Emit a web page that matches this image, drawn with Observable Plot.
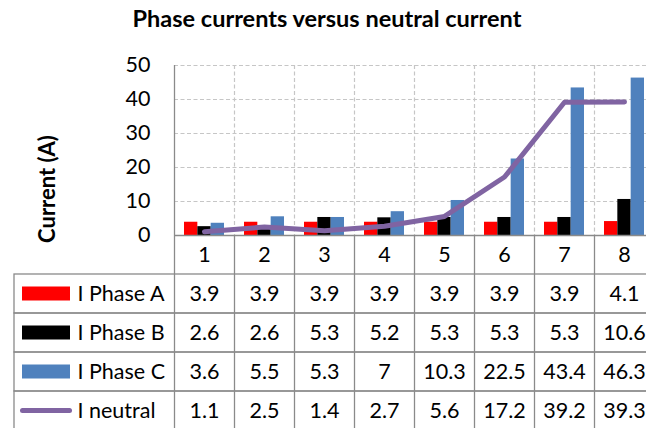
<!DOCTYPE html>
<html>
<head>
<meta charset="utf-8">
<script src="https://cdn.jsdelivr.net/npm/d3@7"></script>
<script src="https://cdn.jsdelivr.net/npm/@observablehq/plot@0.6"></script>
<style>
  html, body { margin: 0; padding: 0; background: #fff; overflow: hidden; }
  #figure { position: relative; width: 646px; height: 428px; overflow: hidden; font-family: Lato, sans-serif; }
  #title { position: absolute; left: 4px; top: 7px; width: 646px; text-align: center;
           font: bold 23.5px/23px Lato, sans-serif; color: #000; white-space: nowrap; }
  #ytitle { position: absolute; left: 47px; top: 189px; width: 0; height: 0; }
  #ytitle span { position: absolute; left: 0; top: 0; transform: translate(-50%, -50%) rotate(-90deg);
                 font: bold 22px/22px Lato, sans-serif; color: #000; white-space: nowrap; }
  #chart, #table { position: absolute; left: 0; }
  #chart { top: 40px; }
  #table { top: 235px; }
</style>
</head>
<body>
<div id="figure">
  <div id="title">Phase currents versus neutral current</div>
  <div id="chart"></div>
  <div id="table"></div>
  <div id="ytitle"><span>Current (A)</span></div>
</div>
<script>
// Measurement points
const categories = ["1", "2", "3", "4", "5", "6", "7", "8"];

// Series names and colours
const seriesNames = ["I Phase A", "I Phase B", "I Phase C", "I neutral"];
const seriesColors = ["#ff0000", "#000000", "#4f81bd", "#8064a2"];

// Currents (A)
const phaseA = [3.9, 3.9, 3.9, 3.9, 3.9, 3.9, 3.9, 4.1];
const phaseB = [2.6, 2.6, 5.3, 5.2, 5.3, 5.3, 5.3, 10.6];
const phaseC = [3.6, 5.5, 5.3, 7, 10.3, 22.5, 43.4, 46.3];
const neutral = [1.1, 2.5, 1.4, 2.7, 5.6, 17.2, 39.2, 39.3];

// Value axis ticks
const yTicks = [0, 10, 20, 30, 40, 50];

const seriesValues = [phaseA, phaseB, phaseC, neutral];
const rows = seriesValues.flatMap((vals, s) =>
  vals.map((v, i) => ({cat: categories[i], series: seriesNames[s], value: v, label: String(v)}))
);
const barSeries = seriesNames.slice(0, 3);
const lineRows = rows.filter(d => d.series === "I neutral");
const legendRows = seriesNames.map(name => ({name}));

const colorScale = {domain: seriesNames, range: seriesColors};
const axisGray = "#8a8a8a";
const gridGray = "#c6c6c6";
const dash = "4 2.5";
const plotLeft = 174;     // left edge of the plotting area and of the data columns
const tableLeft = 14;     // left edge of the legend column
const band = 60;          // width of one category column
const plotWidth = plotLeft + band * categories.length;
const barW = 40 / 3;      // three bars filling 40px of each column
const gap = (band - 3 * barW) / 2;
const fontSize = 21.5;
const svgStyle = {overflow: "visible", maxWidth: "none", background: "transparent",
                  fontFamily: "Lato, sans-serif", fontSize: fontSize + "px"};
const xScale = () => ({type: "band", domain: categories, padding: 0, axis: null});

// ---- column chart with neutral-current line ----
const chart = Plot.plot({
  width: plotWidth,
  height: 195,
  marginTop: 25,
  marginBottom: 0,
  marginLeft: plotLeft,
  marginRight: 0,
  style: svgStyle,
  x: xScale(),
  y: {domain: [0, 50], ticks: yTicks, tickSize: 0, tickPadding: 24, label: null},
  color: colorScale,
  marks: [
    Plot.ruleY(yTicks.slice(1), {stroke: gridGray, strokeWidth: 1.2, strokeDasharray: dash}),
    Plot.ruleX(categories.slice(1), {dx: -band / 2, stroke: gridGray, strokeWidth: 1.2, strokeDasharray: dash}),
    ...barSeries.map((name, s) =>
      Plot.barY(rows.filter(d => d.series === name), {
        x: "cat", y: "value", fill: "series",
        insetLeft: gap + s * barW, insetRight: gap + (2 - s) * barW
      })
    ),
    Plot.ruleX(categories.slice(0, 1), {dx: -band / 2, stroke: axisGray, strokeWidth: 1.3}),
    Plot.ruleY([0], {stroke: axisGray, strokeWidth: 1.3}),
    Plot.line(lineRows, {
      x: "cat", y: "value", stroke: "series", strokeWidth: 5,
      strokeLinecap: "round", strokeLinejoin: "round"
    })
  ]
});
document.getElementById("chart").append(chart);

// ---- data table with category labels and legend keys ----
const axisRow = "#";
const reach = plotLeft - tableLeft;   // legend column extends left of the data columns
const table = Plot.plot({
  width: plotWidth,
  height: 195,
  marginTop: 0,
  marginBottom: 0,
  marginLeft: plotLeft,
  marginRight: 0,
  style: svgStyle,
  x: xScale(),
  y: {type: "band", domain: [axisRow, ...seriesNames], padding: 0, axis: null},
  color: colorScale,
  marks: [
    Plot.cell(legendRows, {y: "name", fill: "none", stroke: axisGray, strokeWidth: 1.3, insetLeft: -reach}),
    Plot.ruleX(categories, {dx: -band / 2, stroke: axisGray, strokeWidth: 1.3}),
    Plot.cell(legendRows.filter(d => barSeries.includes(d.name)), {
      y: "name", fill: "name", insetLeft: 8 - reach, insetRight: plotWidth - 70,
      insetTop: 12.5, insetBottom: 12.5
    }),
    Plot.cell(legendRows.filter(d => !barSeries.includes(d.name)), {
      y: "name", fill: "name", insetLeft: 6 - reach, insetRight: plotWidth - 72,
      insetTop: 17, insetBottom: 17, rx: 2.5
    }),
    Plot.text(legendRows, {
      y: "name", text: "name", frameAnchor: "left", dx: 77 - plotLeft, textAnchor: "start",
      fontSize, fill: "#000"
    }),
    Plot.text(categories, {x: d => d, y: () => axisRow, text: d => d, fontSize, fill: "#000"}),
    Plot.text(rows, {x: "cat", y: "series", text: "label", fontSize, fill: "#000"})
  ]
});
document.getElementById("table").append(table);
</script>
</body>
</html>
